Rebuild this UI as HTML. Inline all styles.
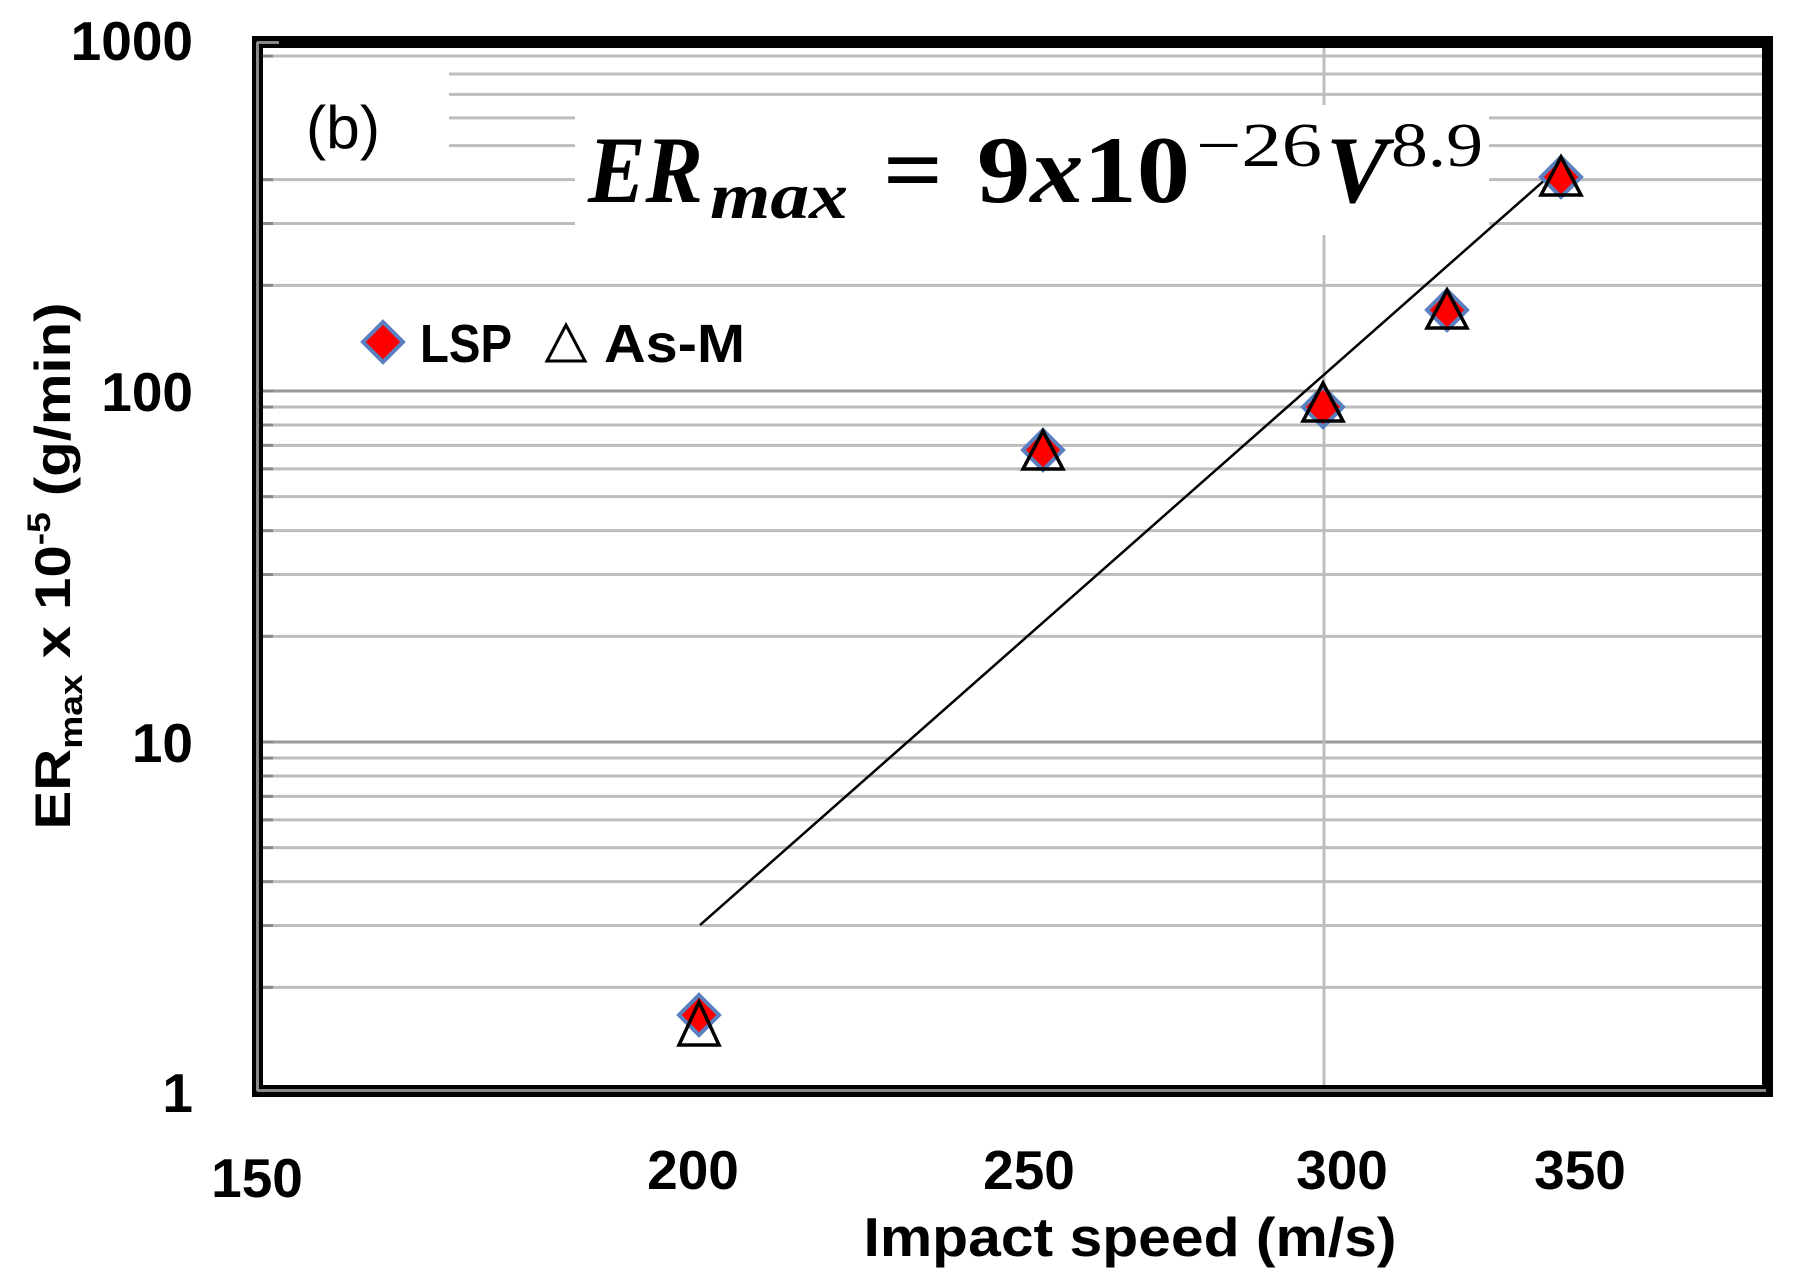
<!DOCTYPE html>
<html><head><meta charset="utf-8"><style>
html,body{margin:0;padding:0;background:#fff;}
svg{display:block;}
</style></head><body>
<svg width="1793" height="1282" viewBox="0 0 1793 1282" xmlns="http://www.w3.org/2000/svg">
<rect width="1793" height="1282" fill="#fff"/>
<g id="grid" stroke-width="3">
</g>
<script>
(function(){
 var g=document.getElementById('grid');var ns='http://www.w3.org/2000/svg';
 for(var d=0;d<3;d++)for(var k=1;k<=9;k++){
  if(d===0&&k===1)continue;
  var y=1093-351*(d+Math.log10(k));
  var l=document.createElementNS(ns,'line');
  l.setAttribute('x1',262);l.setAttribute('x2',1762);l.setAttribute('y1',y);l.setAttribute('y2',y);
  l.setAttribute('stroke',k===1?'#9a9a9a':'#bdbdbd');g.appendChild(l);
  var t=document.createElementNS(ns,'line');
  t.setAttribute('x1',259);t.setAttribute('x2',273);t.setAttribute('y1',y);t.setAttribute('y2',y);
  t.setAttribute('stroke','#888');g.appendChild(t);
 }
})();
</script>
<line x1="1324" y1="48" x2="1324" y2="1088" stroke="#bdbdbd" stroke-width="3"/>
<rect x="263" y="62" width="186" height="103" fill="#fff"/>
<rect x="575" y="105" width="914" height="130" fill="#fff"/>
<rect x="252" y="36" width="1521" height="12" fill="#000"/>
<rect x="1762" y="36" width="11" height="1061" fill="#000"/>
<rect x="252" y="1085" width="1521" height="12" fill="#000"/>
<rect x="252" y="36" width="11" height="1061" fill="#000"/>
<line x1="257.5" y1="42" x2="257.5" y2="1091" stroke="#888" stroke-width="3"/>
<line x1="257" y1="1090.5" x2="1766" y2="1090.5" stroke="#888" stroke-width="3"/>
<line x1="257" y1="42.5" x2="279" y2="42.5" stroke="#888" stroke-width="3"/>
<line x1="700" y1="925" x2="1547" y2="178" stroke="#000" stroke-width="2.5"/>
<g stroke-linejoin="miter">
<g transform="translate(699,1015)"><polygon points="0,-20 20,0 0,20 -20,0" fill="#f00" stroke="#5b80bf" stroke-width="4"/><polygon points="0,-13 20,30 -20,30" fill="none" stroke="#000" stroke-width="3.5"/></g>
<g transform="translate(1043,450)"><polygon points="0,-20 20,0 0,20 -20,0" fill="#f00" stroke="#5b80bf" stroke-width="4"/><polygon points="0,-19 20,19 -20,19" fill="none" stroke="#000" stroke-width="3.5"/></g>
<g transform="translate(1323,407)"><polygon points="0,-20 20,0 0,20 -20,0" fill="#f00" stroke="#5b80bf" stroke-width="4"/><polygon points="0,-24 20,14 -20,14" fill="none" stroke="#000" stroke-width="3.5"/></g>
<g transform="translate(1447,310)"><polygon points="0,-20 20,0 0,20 -20,0" fill="#f00" stroke="#5b80bf" stroke-width="4"/><polygon points="0,-20 20,18 -20,18" fill="none" stroke="#000" stroke-width="3.5"/></g>
<g transform="translate(1561,177)"><polygon points="0,-20 20,0 0,20 -20,0" fill="#f00" stroke="#5b80bf" stroke-width="4"/><polygon points="0,-20 20,18 -20,18" fill="none" stroke="#000" stroke-width="3.5"/></g>
</g>
<g font-family="Liberation Sans, sans-serif" font-weight="bold" font-size="55" fill="#000" text-anchor="end">
<text x="193" y="60">1000</text>
<text x="193" y="411">100</text>
<text x="193" y="762">10</text>
<text x="193" y="1112">1</text>
</g>
<g font-family="Liberation Sans, sans-serif" font-weight="bold" font-size="55" fill="#000" text-anchor="middle">
<text x="257" y="1197">150</text>
<text x="693" y="1189">200</text>
<text x="1029" y="1189">250</text>
<text x="1342" y="1189">300</text>
<text x="1580" y="1189">350</text>
<text x="1130" y="1256" textLength="533" lengthAdjust="spacingAndGlyphs">Impact speed (m/s)</text>
</g>
<text transform="translate(70,566) rotate(-90)" font-family="Liberation Sans, sans-serif" font-weight="bold" font-size="50" text-anchor="middle" textLength="527" lengthAdjust="spacingAndGlyphs">ER<tspan font-size="32" dy="12">max</tspan><tspan dy="-12"> x 10</tspan><tspan font-size="32" dy="-20">-5</tspan><tspan dy="20"> (g/min)</tspan></text>
<text x="306" y="148" font-family="Liberation Sans, sans-serif" font-size="60" textLength="74" lengthAdjust="spacingAndGlyphs">(b)</text>
<polygon points="383,322 403,342 383,362 363,342" fill="#f00" stroke="#5b80bf" stroke-width="4"/>
<text x="420" y="362" font-family="Liberation Sans, sans-serif" font-weight="bold" font-size="54" textLength="92" lengthAdjust="spacingAndGlyphs">LSP</text>
<polygon points="566,325 585,361 547,361" fill="none" stroke="#000" stroke-width="3"/>
<text x="604" y="362" font-family="Liberation Sans, sans-serif" font-weight="bold" font-size="54" textLength="141" lengthAdjust="spacingAndGlyphs">As-M</text>
<g font-family="Liberation Serif, serif" font-weight="bold" fill="#000">
<text x="588" y="202" font-size="95" font-style="italic" textLength="115" lengthAdjust="spacingAndGlyphs">ER</text>
<text x="710" y="218" font-size="66" font-style="italic" textLength="138" lengthAdjust="spacingAndGlyphs">max</text>
<text x="883" y="202" font-size="95" textLength="60" lengthAdjust="spacingAndGlyphs">=</text>
<text x="977" y="202" font-size="95" textLength="213" lengthAdjust="spacingAndGlyphs">9<tspan font-style="italic">x</tspan>10</text>
<text x="1196" y="166" font-size="62" font-weight="normal" textLength="126" lengthAdjust="spacingAndGlyphs">−26</text>
<text x="1326" y="202" font-size="95" font-style="italic" textLength="62" lengthAdjust="spacingAndGlyphs">V</text>
<text x="1391" y="166" font-size="62" font-weight="normal" textLength="92" lengthAdjust="spacingAndGlyphs">8.9</text>
</g>
</svg>
</body></html>
